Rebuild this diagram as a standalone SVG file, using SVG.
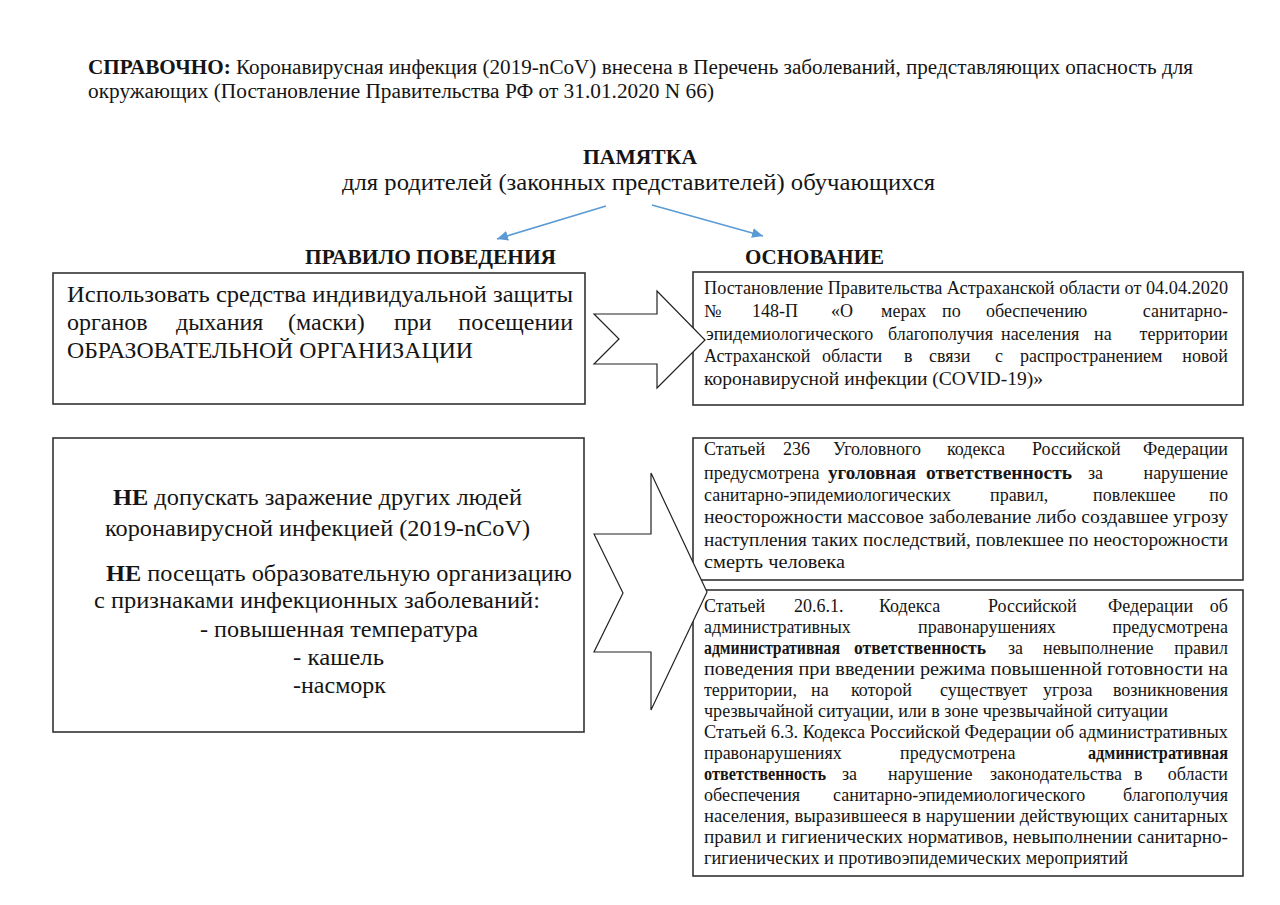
<svg xmlns="http://www.w3.org/2000/svg" width="1280" height="905" viewBox="0 0 1280 905" font-family="'Liberation Serif', 'DejaVu Serif', serif">
<style>
text { font-family: "Liberation Serif", "DejaVu Serif", "Times New Roman", serif; fill: #151515; }
.h { font-size: 20px; }
.b { font-weight: bold; }
.big { font-size: 24px; }
.sm { font-size: 18px; }
.box { fill: #fff; stroke: #333; stroke-width: 1.6; }
.arr { fill: #fff; stroke: #222; stroke-width: 1.2; stroke-linejoin: miter; }
.blue { stroke: #5B9BD5; stroke-width: 1.6; fill: none; }
.e { text-anchor: end; }
</style>
<defs>
<marker id="ah" markerUnits="userSpaceOnUse" markerWidth="12" markerHeight="10" refX="11" refY="5" orient="auto">
<path d="M0,0 L11,5 L0,10 z" fill="#5B9BD5"/>
</marker>
</defs>
<rect width="1280" height="905" fill="#fff"/>

<g id="header">
<text class="h" x="88" y="74" textLength="1105" lengthAdjust="spacingAndGlyphs"><tspan class="b">СПРАВОЧНО:</tspan> Коронавирусная инфекция (2019-nCoV) внесена в Перечень заболеваний, представляющих опасность для</text>
<text class="h" x="88" y="98" textLength="626" lengthAdjust="spacingAndGlyphs">окружающих (Постановление Правительства РФ от 31.01.2020 N 66)</text>
</g>

<g id="title">
<text class="h b" x="583" y="164" textLength="114" lengthAdjust="spacingAndGlyphs">ПАМЯТКА</text>
<text class="big" x="342" y="190" textLength="593" lengthAdjust="spacingAndGlyphs">для родителей (законных представителей) обучающихся</text>
</g>

<g id="label-rule">
<text class="h b" x="305" y="264" textLength="251" lengthAdjust="spacingAndGlyphs">ПРАВИЛО ПОВЕДЕНИЯ</text>
</g>
<g id="label-basis">
<text class="h b" x="745" y="264" textLength="139" lengthAdjust="spacingAndGlyphs">ОСНОВАНИЕ</text>
</g>

<g id="rule1">
<rect class="box" x="53" y="273" width="532" height="131"/>
<text class="big" x="67" y="302" textLength="506" lengthAdjust="spacingAndGlyphs">Использовать средства индивидуальной защиты</text>
<text class="big" y="330"><tspan x="67">органов</tspan><tspan x="176">дыхания</tspan><tspan x="288">(маски)</tspan><tspan x="394">при</tspan><tspan x="573" class="e">посещении</tspan></text>
<text class="big" x="67" y="358" textLength="406" lengthAdjust="spacingAndGlyphs">ОБРАЗОВАТЕЛЬНОЙ ОРГАНИЗАЦИИ</text>
</g>

<g id="basis1">
<rect class="box" x="693" y="272" width="550" height="133"/>
<text class="sm" x="704" y="294" textLength="524" lengthAdjust="spacingAndGlyphs">Постановление Правительства Астраханской области от 04.04.2020</text>
<text class="sm" y="317"><tspan x="704">№</tspan><tspan x="752">148-П</tspan><tspan x="831">«О</tspan><tspan x="881">мерах</tspan><tspan x="942">по</tspan><tspan x="986">обеспечению</tspan><tspan x="1228" class="e">санитарно-</tspan></text>
<text class="sm" y="340"><tspan x="706">эпидемиологического</tspan><tspan x="888">благополучия</tspan><tspan x="1001">населения</tspan><tspan x="1094">на</tspan><tspan x="1228" class="e">территории</tspan></text>
<text class="sm" y="362"><tspan x="704">Астраханской</tspan><tspan x="822">области</tspan><tspan x="904">в</tspan><tspan x="929">связи</tspan><tspan x="995">с</tspan><tspan x="1020">распространением</tspan><tspan x="1228" class="e">новой</tspan></text>
<text class="sm" x="704" y="385" textLength="339" lengthAdjust="spacingAndGlyphs">коронавирусной инфекции (COVID-19)»</text>
</g>

<g id="rule2">
<rect class="box" x="53" y="438" width="531" height="294"/>
<text class="big" x="113" y="505" textLength="409" lengthAdjust="spacingAndGlyphs"><tspan class="b">НЕ</tspan> допускать заражение других людей</text>
<text class="big" x="105" y="536" textLength="425" lengthAdjust="spacingAndGlyphs">коронавирусной инфекцией (2019-nCoV)</text>
<text class="big" x="106" y="581" textLength="466" lengthAdjust="spacingAndGlyphs"><tspan class="b">НЕ</tspan> посещать образовательную организацию</text>
<text class="big" x="94" y="608" textLength="446" lengthAdjust="spacingAndGlyphs">с признаками инфекционных заболеваний:</text>
<text class="big" x="200" y="637" textLength="278" lengthAdjust="spacingAndGlyphs">- повышенная температура</text>
<text class="big" x="293" y="665" textLength="91" lengthAdjust="spacingAndGlyphs">- кашель</text>
<text class="big" x="293" y="693" textLength="93" lengthAdjust="spacingAndGlyphs">-насморк</text>
</g>

<g id="basis2">
<rect class="box" x="693" y="438" width="550" height="142"/>
<text class="sm" y="455"><tspan x="704">Статьей</tspan><tspan x="783">236</tspan><tspan x="833">Уголовного</tspan><tspan x="947">кодекса</tspan><tspan x="1032">Российской</tspan><tspan x="1228" class="e">Федерации</tspan></text>
<text class="sm" y="479"><tspan x="704">предусмотрена</tspan><tspan x="1088">за</tspan><tspan x="1228" class="e">нарушение</tspan></text>
<text class="b" font-size="19" x="828" y="479" textLength="88" lengthAdjust="spacingAndGlyphs">уголовная</text>
<text class="b" font-size="19" x="926" y="479" textLength="146" lengthAdjust="spacingAndGlyphs">ответственность</text>
<text class="sm" y="501"><tspan x="704">санитарно-эпидемиологических</tspan><tspan x="990">правил,</tspan><tspan x="1093">повлекшее</tspan><tspan x="1228" class="e">по</tspan></text>
<text class="sm" x="704" y="523" textLength="524" lengthAdjust="spacingAndGlyphs">неосторожности массовое заболевание либо создавшее угрозу</text>
<text class="sm" x="704" y="546" textLength="524" lengthAdjust="spacingAndGlyphs">наступления таких последствий, повлекшее по неосторожности</text>
<text class="sm" x="704" y="568" textLength="141" lengthAdjust="spacingAndGlyphs">смерть человека</text>
</g>

<g id="basis3">
<rect class="box" x="693" y="590" width="550" height="286"/>
<text class="sm" y="612"><tspan x="704">Статьей</tspan><tspan x="794">20.6.1.</tspan><tspan x="879">Кодекса</tspan><tspan x="988">Российской</tspan><tspan x="1108">Федерации</tspan><tspan x="1228" class="e">об</tspan></text>
<text class="sm" y="633"><tspan x="704">административных</tspan><tspan x="918">правонарушениях</tspan><tspan x="1228" class="e">предусмотрена</tspan></text>
<text class="sm b" x="704" y="654" textLength="136" lengthAdjust="spacingAndGlyphs">административная</text>
<text class="sm b" x="854" y="654" textLength="132" lengthAdjust="spacingAndGlyphs">ответственность</text>
<text class="sm" y="654"><tspan x="1008">за</tspan><tspan x="1043">невыполнение</tspan><tspan x="1228" class="e">правил</tspan></text>
<text class="sm" x="704" y="675" textLength="524" lengthAdjust="spacingAndGlyphs">поведения при введении режима повышенной готовности на</text>
<text class="sm" y="696"><tspan x="704">территории,</tspan><tspan x="811">на</tspan><tspan x="851">которой</tspan><tspan x="940">существует</tspan><tspan x="1043">угроза</tspan><tspan x="1228" class="e">возникновения</tspan></text>
<text class="sm" x="704" y="717" textLength="464" lengthAdjust="spacingAndGlyphs">чрезвычайной ситуации, или в зоне чрезвычайной ситуации</text>
<text class="sm" x="704" y="738" textLength="524" lengthAdjust="spacingAndGlyphs">Статьей 6.3. Кодекса Российской Федерации об административных</text>
<text class="sm" y="759"><tspan x="704">правонарушениях</tspan><tspan x="900">предусмотрена</tspan></text>
<text class="sm b" x="1088" y="759" textLength="140" lengthAdjust="spacingAndGlyphs">административная</text>
<text class="sm b" x="704" y="780" textLength="122" lengthAdjust="spacingAndGlyphs">ответственность</text>
<text class="sm" y="780"><tspan x="842">за</tspan><tspan x="888">нарушение</tspan><tspan x="990">законодательства</tspan><tspan x="1134">в</tspan><tspan x="1228" class="e">области</tspan></text>
<text class="sm" y="801"><tspan x="704">обеспечения</tspan><tspan x="833">санитарно-эпидемиологического</tspan><tspan x="1228" class="e">благополучия</tspan></text>
<text class="sm" x="704" y="822" textLength="524" lengthAdjust="spacingAndGlyphs">населения, выразившееся в нарушении действующих санитарных</text>
<text class="sm" x="704" y="843" textLength="524" lengthAdjust="spacingAndGlyphs">правил и гигиенических нормативов, невыполнении санитарно-</text>
<text class="sm" x="704" y="864" textLength="424" lengthAdjust="spacingAndGlyphs">гигиенических и противоэпидемических мероприятий</text>
</g>

<g id="connectors">
<line class="blue" x1="606" y1="206" x2="497" y2="239" marker-end="url(#ah)"/>
<line class="blue" x1="652" y1="205" x2="763" y2="236" marker-end="url(#ah)"/>
<polygon class="arr" points="594,314 619,339 594,364 657,364 657,388 705,340 657,291 657,314"/>
<polygon class="arr" points="594,534 623,593 594,652 651,652 651,710 707,592 651,473 651,534"/>
</g>
</svg>
